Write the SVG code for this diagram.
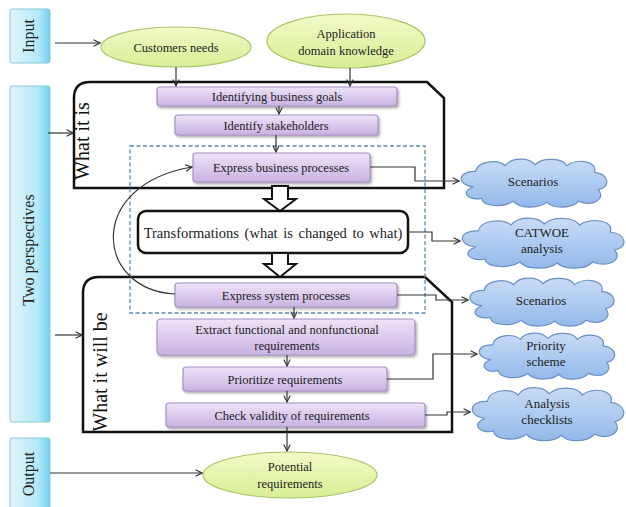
<svg xmlns="http://www.w3.org/2000/svg" xmlns:xlink="http://www.w3.org/1999/xlink" width="626" height="507" viewBox="0 0 626 507">
<defs>
<linearGradient id="gCyan" x1="0" y1="0" x2="1" y2="0"><stop offset="0" stop-color="#e2f6fb"/><stop offset="0.7" stop-color="#b4e8f6"/><stop offset="1" stop-color="#6fd2ee"/></linearGradient>
<linearGradient id="gPurple" x1="0" y1="0" x2="0" y2="1"><stop offset="0" stop-color="#eee4f8"/><stop offset="1" stop-color="#c9b2e2"/></linearGradient>
<linearGradient id="gGreen" x1="0" y1="0" x2="0" y2="1"><stop offset="0" stop-color="#f2fac8"/><stop offset="1" stop-color="#d8ee94"/></linearGradient>
<linearGradient id="gCloud" x1="0" y1="0" x2="0" y2="1"><stop offset="0" stop-color="#c8dcf6"/><stop offset="1" stop-color="#93b9ea"/></linearGradient>
<filter id="sh" x="-10%" y="-30%" width="120%" height="170%"><feDropShadow dx="1.5" dy="2" stdDeviation="1.2" flood-color="#555" flood-opacity="0.45"/></filter>
<marker id="ar" viewBox="0 0 10 10" refX="9" refY="5" markerWidth="8" markerHeight="8" orient="auto" markerUnits="userSpaceOnUse"><path d="M1,1 L9,5 L1,9" fill="none" stroke="#333" stroke-width="1.4"/></marker>
<path id="cloud" vector-effect="non-scaling-stroke" d="M -60,5 C -78,3 -76,-12 -58,-11 C -56,-22 -36,-24 -28,-17 C -22,-26 -4,-26 2,-18 C 10,-26 30,-25 34,-17 C 44,-25 66,-22 62,-10 C 78,-8 78,6 66,8 C 74,18 60,26 46,20 C 40,28 20,28 14,21 C 6,28 -14,28 -20,20 C -30,27 -50,26 -52,17 C -66,20 -74,10 -60,5 Z"/>
</defs>
<style>
text{font-family:"Liberation Serif","Times New Roman",serif;fill:#222;text-anchor:middle}
.side{fill:url(#gCyan);stroke:#8cc8d8;stroke-width:1}
.side-t{font-family:"Liberation Serif",serif;font-size:16px}
.ell{fill:url(#gGreen);stroke:#a8c46a;stroke-width:1.2}
.proc{fill:url(#gPurple);stroke:#a890c8;stroke-width:1.2;filter:url(#sh)}
.pt{font-family:"Liberation Serif",serif;font-size:12.5px}
.cl{fill:url(#gCloud);stroke:#6a8fc4;stroke-width:1.2}
.ct{font-family:"Liberation Serif",serif;font-size:13px}
.frame{fill:none;stroke:#111;stroke-width:2.5}
.cn{fill:none;stroke:#333;stroke-width:1.2}
.ca{fill:none;stroke:#333;stroke-width:1.2;marker-end:url(#ar)}
.big{font-family:"Liberation Serif",serif;font-size:20px;fill:#111}
</style>

<g id="input"><rect class="side" x="10" y="9" width="40" height="54" rx="2"/><text class="side-t" transform="translate(34,36) rotate(-90)">Input</text></g>
<g id="two-perspectives"><rect class="side" x="10" y="86" width="40" height="336" rx="2"/><text class="side-t" transform="translate(34,250) rotate(-90)">Two perspectives</text></g>
<g id="output"><rect class="side" x="10" y="438" width="40" height="75" rx="2"/><text class="side-t" transform="translate(34,474) rotate(-90)">Output</text></g>

<g id="frame-what-it-is"><path class="frame" d="M74,188 L74,98 Q74,82 90,82 L427,82 L444,98 L444,188 Z"/><text class="big" transform="translate(89,141) rotate(-90)">What it is</text></g>
<g id="frame-what-it-will-be"><path class="frame" d="M83,432 L83,293 Q83,277 99,277 L425,277 L452,302 L452,432 Z"/><text class="big" transform="translate(107,372) rotate(-90)">What it will be</text></g>

<g id="dashed-region"><rect x="130" y="146" width="295" height="167" fill="none" stroke="#5b88ad" stroke-width="1.3" stroke-dasharray="4,2.5"/></g>

<g id="customers-needs"><ellipse class="ell" cx="176" cy="47" rx="75" ry="20"/><text class="pt" x="176" y="51.5">Customers needs</text></g>
<g id="application-domain"><ellipse class="ell" cx="346" cy="41" rx="79" ry="27"/><text class="pt" x="346" y="38">Application</text><text class="pt" x="346" y="55">domain knowledge</text></g>

<g id="identifying-goals"><rect class="proc" x="157" y="87" width="240" height="19" rx="3"/><text class="pt" x="277" y="101">Identifying business goals</text></g>
<g id="identify-stakeholders"><rect class="proc" x="175" y="115" width="203" height="20" rx="3"/><text class="pt" x="276" y="129.5">Identify stakeholders</text></g>
<g id="express-business"><rect class="proc" x="193" y="153" width="177" height="29" rx="3"/><text class="pt" x="281" y="172">Express business processes</text></g>
<g id="transformations"><rect x="138" y="211" width="270" height="42" rx="8" fill="#fff" stroke="#111" stroke-width="2.5"/><text x="273" y="237.5" font-size="14.5" word-spacing="2">Transformations (what is changed to what)</text></g>
<g id="express-system"><rect class="proc" x="175" y="283" width="222" height="24" rx="3"/><text class="pt" x="286" y="299.5">Express system processes</text></g>
<g id="extract-requirements"><rect class="proc" x="157" y="319" width="258" height="36" rx="4"/><text class="pt" x="287" y="334">Extract functional and nonfunctional</text><text class="pt" x="287" y="350">requirements</text></g>
<g id="prioritize"><rect class="proc" x="183" y="367" width="204" height="24" rx="3"/><text class="pt" x="285" y="383.5">Prioritize requirements</text></g>
<g id="check-validity"><rect class="proc" x="166" y="403" width="259" height="24" rx="3"/><text class="pt" x="292" y="419.5">Check validity of requirements</text></g>
<g id="potential-requirements"><ellipse class="ell" cx="290" cy="475" rx="87" ry="23"/><text class="pt" x="290" y="471">Potential</text><text class="pt" x="290" y="488">requirements</text></g>

<g id="cloud-scenarios-1"><use href="#cloud" class="cl" transform="translate(533,182) scale(0.99,0.96)"/><text class="ct" x="533" y="186">Scenarios</text></g>
<g id="cloud-catwoe"><use href="#cloud" class="cl" transform="translate(542,242) scale(1.1,1.0)"/><text class="ct" x="542" y="237">CATWOE</text><text class="ct" x="542" y="253">analysis</text></g>
<g id="cloud-scenarios-2"><use href="#cloud" class="cl" transform="translate(541,301) scale(0.98,0.96)"/><text class="ct" x="541" y="305">Scenarios</text></g>
<g id="cloud-priority"><use href="#cloud" class="cl" transform="translate(546,355) scale(0.92,0.92)"/><text class="ct" x="546" y="350">Priority</text><text class="ct" x="546" y="366">scheme</text></g>
<g id="cloud-checklists"><use href="#cloud" class="cl" transform="translate(547,413) scale(1.03,1.06)"/><text class="ct" x="547" y="408">Analysis</text><text class="ct" x="547" y="424">checklists</text></g>

<g id="connectors">
<path class="ca" d="M55,43 L100,43"/>
<path class="ca" d="M48,133 L73,133"/>
<path class="ca" d="M55,335 L82,335"/>
<path class="ca" d="M50,473 L202,473"/>
<path class="ca" d="M176,67 L176,86"/>
<path class="ca" d="M350,68 L350,86"/>
<path class="ca" d="M279,106 L279,114"/>
<path class="ca" d="M276,135 L276,152"/>
<path class="ca" d="M294,307 L294,318"/>
<path class="ca" d="M287,355 L287,366"/>
<path class="ca" d="M287,391 L287,402"/>
<path class="ca" d="M287,427 L287,451"/>
<path class="ca" d="M175,294 C95,290 85,185 192,167"/>
<path class="ca" d="M370,167 L415,167 L415,181 L459,181"/>
<path class="ca" d="M408,232 L432,232 L432,241 L460,241"/>
<path class="ca" d="M397,295 L436,295 L436,300 L468,300"/>
<path class="ca" d="M387,379 L433,379 L433,354 L477,354"/>
<path class="ca" d="M425,415 L447,415 L447,412 L470,412"/>
<path d="M272,186 L288,186 L288,199 L296,199 L280,211 L264,199 L272,199 Z" fill="#fff" stroke="#111" stroke-width="2" stroke-linejoin="miter"/>
<path d="M272,253 L288,253 L288,264 L296,264 L280,277 L264,264 L272,264 Z" fill="#fff" stroke="#111" stroke-width="2" stroke-linejoin="miter"/>
</g>
</svg>
